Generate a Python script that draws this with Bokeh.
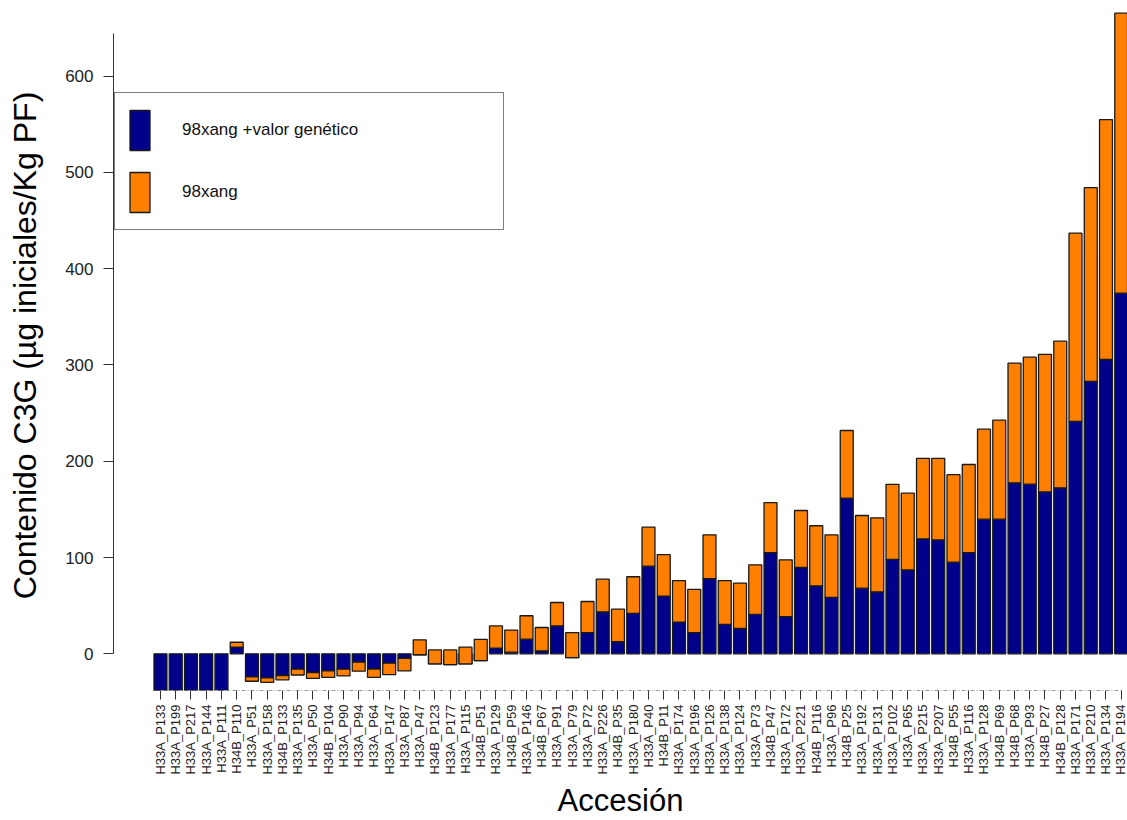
import math
from bokeh.plotting import figure
from bokeh.models import FixedTicker, Legend, LegendItem, ColumnDataSource, Range1d, Title
from bokeh.embed import file_html
from bokeh.resources import INLINE

# ---- data ----
accesiones = [
    "H33A_P133", "H33A_P199", "H33A_P217", "H33A_P144", "H33A_P111", "H34B_P110",
    "H33A_P51", "H33A_P158", "H34B_P133", "H33A_P135", "H33A_P50", "H34B_P104",
    "H33A_P90", "H33A_P94", "H33A_P64", "H33A_P147", "H33A_P87", "H33A_P47",
    "H34B_P123", "H33A_P177", "H33A_P115", "H34B_P51", "H33A_P129", "H34B_P59",
    "H33A_P146", "H34B_P67", "H33A_P91", "H33A_P79", "H33A_P72", "H33A_P226",
    "H34B_P35", "H33A_P180", "H33A_P40", "H34B_P11", "H33A_P174", "H33A_P196",
    "H33A_P126", "H33A_P138", "H33A_P124", "H33A_P73", "H34B_P47", "H33A_P172",
    "H33A_P221", "H34B_P116", "H33A_P96", "H34B_P25", "H33A_P192", "H33A_P131",
    "H33A_P102", "H33A_P65", "H33A_P215", "H33A_P207", "H34B_P55", "H33A_P116",
    "H33A_P128", "H34B_P69", "H34B_P68", "H33A_P93", "H34B_P27", "H34B_P128",
    "H33A_P171", "H33A_P210", "H33A_P134", "H33A_P194",
]

# "98xang +valor genético" (blue bar, from 0)
valor_genetico = [
    -52, -50, -46, -44, -42, 7,
    -24, -25, -22.5, -16, -19.4, -17.6,
    -16, -8.7, -15.8, -9.7, -4.6, -1,
    -10.4, -11.2, -10.5, -7, 6, 1.7,
    15.2, 3.1, 29, -4, 22, 43.6,
    12.5, 42, 91, 60, 33, 22,
    78, 30.5, 26.3, 41, 105, 38.6,
    89.6, 70.6, 58.5, 161.6, 68.2, 64.4,
    98, 87.2, 119.4, 118.4, 95.2, 105,
    139.8, 139.8, 177.6, 176.2, 168.2, 172.4,
    241.3, 283, 305.6, 374.5,
]

# "98xang" (orange bar, stacked from the blue value up/down to this level)
total_98xang = [
    -58, -56, -52, -50, -48, 12,
    -28.5, -29.6, -27, -22, -25.6, -24.5,
    -23, -18, -24.4, -21.7, -17.8, 14.5,
    4, 4, 6.9, 15, 29, 24.6,
    39.5, 27.3, 53.3, 22, 54.3, 77.5,
    46.4, 80, 131.5, 103, 76, 67,
    123.6, 76, 73.4, 92.4, 157, 97.6,
    148.8, 133, 123.6, 231.9, 143.6, 141.2,
    176, 166.8, 203, 203, 186, 196.6,
    233.3, 242.6, 301.8, 308, 311, 324.6,
    436.8, 484, 554.8, 665.2,
]

y_ticks = [0, 100, 200, 300, 400, 500, 600]

FONT = "Liberation Sans"
BLUE = "#00008B"
ORANGE = "#FF7F00"

n = len(accesiones)
xs = list(range(n))
src = ColumnDataSource(dict(
    x=xs, acc=accesiones, gen=valor_genetico, tot=total_98xang, zero=[0] * n,
))

p = figure(
    width=1127, height=820, output_backend="svg", toolbar_location=None,
    x_range=Range1d(-3.08, 63.41), y_range=Range1d(-38.1, 678.4),
    min_border_left=113, min_border_right=0, min_border_top=0, min_border_bottom=130,
)
p.outline_line_color = None
p.xgrid.visible = False
p.ygrid.visible = False
p.background_fill_color = "white"

r_blue = p.vbar(x="x", bottom="zero", top="gen", width=0.85, source=src,
                fill_color=BLUE, line_color="#1a1a1a", line_width=1.3)
r_orange = p.vbar(x="x", bottom="gen", top="tot", width=0.85, source=src,
                  fill_color=ORANGE, line_color="#1a1a1a", line_width=1.3)

# y axis
yax = p.yaxis[0]
yax.ticker = FixedTicker(ticks=y_ticks)
yax.bounds = (0, 644)
yax.axis_line_color = "#333333"
yax.major_tick_line_color = "#333333"
yax.major_tick_out = 10
yax.major_tick_in = 0
yax.minor_tick_line_color = None
yax.major_label_standoff = 10
yax.major_label_text_font = FONT
yax.major_label_text_font_size = "17px"
yax.major_label_text_color = "#222222"
yax.axis_label = "Contenido C3G (µg iniciales/Kg PF)"
yax.axis_label_text_font = FONT
yax.axis_label_text_font_size = "32px"
yax.axis_label_text_font_style = "normal"
yax.axis_label_text_color = "black"
yax.axis_label_standoff = 19

# x axis
xax = p.xaxis[0]
xax.ticker = FixedTicker(ticks=xs)
xax.major_label_overrides = {i: a for i, a in zip(xs, accesiones)}
xax.major_label_orientation = math.pi / 2
xax.bounds = (0, n - 1)
xax.axis_line_color = "#999999"
xax.axis_line_dash = "4 2 1 2"
xax.major_tick_line_color = "#333333"
xax.major_tick_out = 9
xax.major_tick_in = 0
xax.minor_tick_line_color = None
xax.major_label_standoff = 5
xax.major_label_text_font = FONT
xax.major_label_text_font_size = "13px"
xax.major_label_text_color = "#222222"

# x axis title as a panel below the tick labels
p.add_layout(Title(
    text="Accesión", align="center", vertical_align="bottom", standoff=6,
    text_font=FONT, text_font_size="31px", text_font_style="normal",
    text_color="black",
), "below")

legend = Legend(
    items=[
        LegendItem(label="98xang +valor genético", renderers=[r_blue]),
        LegendItem(label="98xang", renderers=[r_orange]),
    ],
    location=(1, 460), orientation="vertical",
    padding=12, spacing=12, margin=0,
    glyph_width=25, glyph_height=50,
    label_standoff=30, label_width=309,
    label_text_font=FONT, label_text_font_size="17px", label_text_color="#111111",
    border_line_color="black", border_line_width=1,
    background_fill_color="white", background_fill_alpha=1,
)
p.add_layout(legend)

open("out.html", "w").write(file_html(p, INLINE))
